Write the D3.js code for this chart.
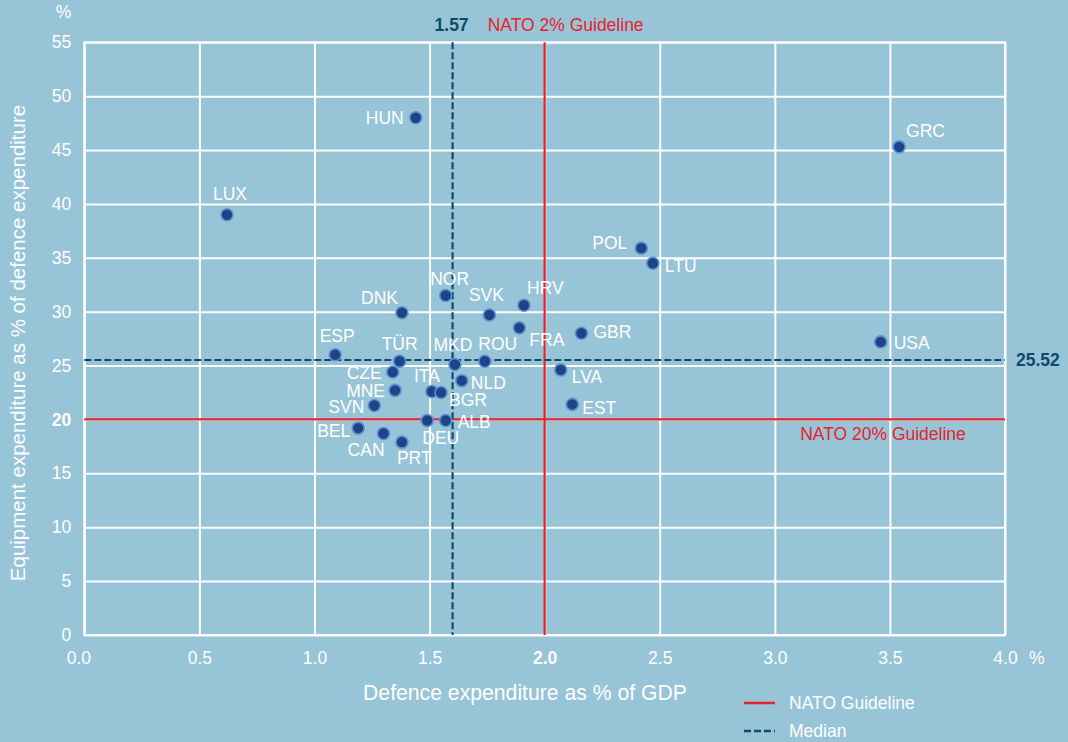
<!DOCTYPE html>
<html>
<head>
<meta charset="utf-8">
<script src="https://cdn.jsdelivr.net/npm/d3@7"></script>
<style>
  body { margin: 0; background: #97c4d7; }
  text { font-family: "Liberation Sans", Arial, sans-serif; }
</style>
</head>
<body>
<div class="chart"></div>
<script>
// data
var countries = ['LUX', 'HUN', 'GRC', 'POL', 'LTU', 'USA', 'NOR', 'DNK', 'SVK', 'HRV', 'FRA', 'GBR',
                 'ESP', 'TÜR', 'MKD', 'ROU', 'CZE', 'LVA', 'NLD', 'MNE', 'ITA', 'BGR', 'SVN', 'EST',
                 'DEU', 'ALB', 'BEL', 'CAN', 'PRT'];
var gdpShare = [0.62, 1.44, 3.54, 2.42, 2.47, 3.46, 1.57, 1.38, 1.76, 1.91, 1.89, 2.16,
                1.09, 1.37, 1.61, 1.74, 1.34, 2.07, 1.64, 1.35, 1.51, 1.55, 1.26, 2.12,
                1.49, 1.57, 1.19, 1.30, 1.38];
var equipmentShare = [39.0, 48.0, 45.3, 35.9, 34.5, 27.2, 31.5, 29.9, 29.7, 30.6, 28.5, 28.0,
                      26.0, 25.4, 25.1, 25.4, 24.4, 24.6, 23.6, 22.7, 22.6, 22.5, 21.3, 21.4,
                      19.9, 19.9, 19.2, 18.7, 17.9];
var xTicks = [0, 0.5, 1.0, 1.5, 2.0, 2.5, 3.0, 3.5, 4.0];
var yTicks = [0, 5, 10, 15, 20, 25, 30, 35, 40, 45, 50, 55];
var guideline = [2.0, 20];          // NATO: % of GDP, % on equipment
var median = [1.57, 25.52];
var medianDrawn = [1.6, 25.52];     // the source chart draws the GDP median line at 1.6

// label placement around each dot: [anchor, dx, dy]
var labelPos = {
  LUX: ['middle', 3, -15], HUN: ['end', -12, 6], GRC: ['start', 7, -10], POL: ['end', -14, 1],
  LTU: ['start', 12, 9], USA: ['start', 13, 7], NOR: ['middle', 4, -11], DNK: ['end', -4, -9],
  SVK: ['middle', -3, -14], HRV: ['start', 3, -11], FRA: ['start', 10, 18], GBR: ['start', 12, 5],
  ESP: ['middle', 2, -13], 'TÜR': ['middle', 0, -11], MKD: ['middle', -2, -14], ROU: ['middle', 13, -11],
  CZE: ['end', -11, 7], LVA: ['start', 11, 13], NLD: ['start', 9, 8], MNE: ['end', -10, 7],
  ITA: ['middle', -5, -9], BGR: ['start', 8, 13], SVN: ['end', -10, 8], EST: ['start', 10, 10],
  DEU: ['start', -5, 23], ALB: ['start', 12, 7], BEL: ['end', -8, 9], CAN: ['end', 1, 23],
  PRT: ['start', -5, 22]
};

var width = 1068, height = 742;
var margin = {top: 42.3, right: 63, bottom: 107, left: 84.3};
var w = width - margin.left - margin.right,
    h = height - margin.top - margin.bottom;

var red = '#e8222b', teal = '#0e4a6a';
var fs = '17.5px';

var svg = d3.select('.chart')
            .append('svg')
            .attr('width', width)
            .attr('height', height)
            .style('display', 'block');

svg.append('rect').attr('width', width).attr('height', height).attr('fill', '#97c4d7');

var g = svg.append('g')
           .attr('transform', 'translate(' + margin.left + ',' + margin.top + ')');

// scales
var x = d3.scaleLinear().domain([0, 4]).range([0, w]);
var y = d3.scaleLinear().domain([0, 55]).range([h, 0]);

// axes as white grid
var xAxis = d3.axisBottom(x).tickValues(xTicks).tickFormat(d3.format('.1f'))
              .tickSize(-h).tickPadding(17);
var yAxis = d3.axisLeft(y).tickValues(yTicks).tickSize(-w).tickPadding(13);

var gx = g.append('g').attr('transform', 'translate(0,' + h + ')').call(xAxis);
var gy = g.append('g').call(yAxis);

[gx, gy].forEach(function(a) {
  a.select('.domain').remove();
  a.selectAll('line').attr('stroke', '#fff').attr('stroke-width', 2);
  a.selectAll('text').attr('fill', '#fff').style('font-size', fs);
});
gx.selectAll('text').filter(function(d) { return d === 2; }).style('font-weight', 'bold');
gy.selectAll('text').filter(function(d) { return d === 20; }).style('font-weight', 'bold');
gx.selectAll('text').filter(function(d) { return d === 0; }).attr('dx', -6);

g.append('rect')
 .attr('width', w).attr('height', h)
 .attr('fill', 'none').attr('stroke', '#fff').attr('stroke-width', 2);

// unit labels
g.append('text').attr('x', -13).attr('y', -24).attr('text-anchor', 'end')
 .attr('fill', '#fff').style('font-size', fs).text('%');
g.append('text').attr('x', w + 24).attr('y', h + 29).attr('text-anchor', 'start')
 .attr('fill', '#fff').style('font-size', fs).text('%');

// guideline lines
g.append('line')
 .attr('x1', x(guideline[0])).attr('x2', x(guideline[0]))
 .attr('y1', 0).attr('y2', h)
 .attr('stroke', red).attr('stroke-width', 2.2);
g.append('line')
 .attr('x1', 0).attr('x2', w)
 .attr('y1', y(guideline[1])).attr('y2', y(guideline[1]))
 .attr('stroke', red).attr('stroke-width', 2.2);

// median lines
g.append('line')
 .attr('x1', x(medianDrawn[0])).attr('x2', x(medianDrawn[0]))
 .attr('y1', 0).attr('y2', h)
 .attr('stroke', teal).attr('stroke-width', 2.2).attr('stroke-dasharray', '7,3');
g.append('line')
 .attr('x1', 0).attr('x2', w)
 .attr('y1', y(medianDrawn[1])).attr('y2', y(medianDrawn[1]))
 .attr('stroke', teal).attr('stroke-width', 2.2).attr('stroke-dasharray', '7,3');

// annotations
g.append('text').attr('x', x(medianDrawn[0]) - 1).attr('y', -11)
 .attr('text-anchor', 'middle').attr('fill', teal)
 .style('font-size', fs).style('font-weight', 'bold')
 .text(median[0].toFixed(2));
g.append('text').attr('x', x(guideline[0]) - 57).attr('y', -11)
 .attr('fill', red).style('font-size', fs)
 .text('NATO 2% Guideline');
g.append('text').attr('x', w + 11).attr('y', y(medianDrawn[1]) + 6)
 .attr('fill', teal).style('font-size', fs).style('font-weight', 'bold')
 .text(median[1].toFixed(2));
g.append('text').attr('x', x(3.11)).attr('y', y(guideline[1]) + 21)
 .attr('fill', red).style('font-size', fs)
 .text('NATO 20% Guideline');

// points
var pts = countries.map(function(c, i) {
  return {code: c, gdp: gdpShare[i], eq: equipmentShare[i]};
});

g.selectAll('circle.pt')
 .data(pts)
 .enter().append('circle')
 .attr('class', 'pt')
 .attr('cx', function(d) { return x(d.gdp); })
 .attr('cy', function(d) { return y(d.eq); })
 .attr('r', 6)
 .attr('fill', '#1e4488')
 .attr('stroke', '#5d93d3')
 .attr('stroke-width', 1.6);

g.selectAll('text.lbl')
 .data(pts)
 .enter().append('text')
 .attr('class', 'lbl')
 .attr('x', function(d) { return x(d.gdp) + labelPos[d.code][1]; })
 .attr('y', function(d) { return y(d.eq) + labelPos[d.code][2]; })
 .attr('text-anchor', function(d) { return labelPos[d.code][0]; })
 .attr('fill', '#fff')
 .style('font-size', fs)
 .text(function(d) { return d.code; });

// axis titles
svg.append('text')
   .attr('x', 525).attr('y', 700)
   .attr('text-anchor', 'middle').attr('fill', '#fff')
   .style('font-size', '21.2px')
   .text('Defence expenditure as % of GDP');
svg.append('text')
   .attr('transform', 'translate(25,343) rotate(-90)')
   .attr('text-anchor', 'middle').attr('fill', '#fff')
   .style('font-size', '20.5px')
   .text('Equipment expenditure as % of defence expenditure');

// legend
var lg = svg.append('g').attr('transform', 'translate(744,0)');
lg.append('line').attr('x1', 0).attr('x2', 31).attr('y1', 703).attr('y2', 703)
  .attr('stroke', red).attr('stroke-width', 2.5);
lg.append('text').attr('x', 45).attr('y', 709).attr('fill', '#fff')
  .style('font-size', fs).text('NATO Guideline');
lg.append('line').attr('x1', 0).attr('x2', 31).attr('y1', 731).attr('y2', 731)
  .attr('stroke', teal).attr('stroke-width', 2.5).attr('stroke-dasharray', '7,3');
lg.append('text').attr('x', 45).attr('y', 737).attr('fill', '#fff')
  .style('font-size', fs).text('Median');
</script>
</body>
</html>
